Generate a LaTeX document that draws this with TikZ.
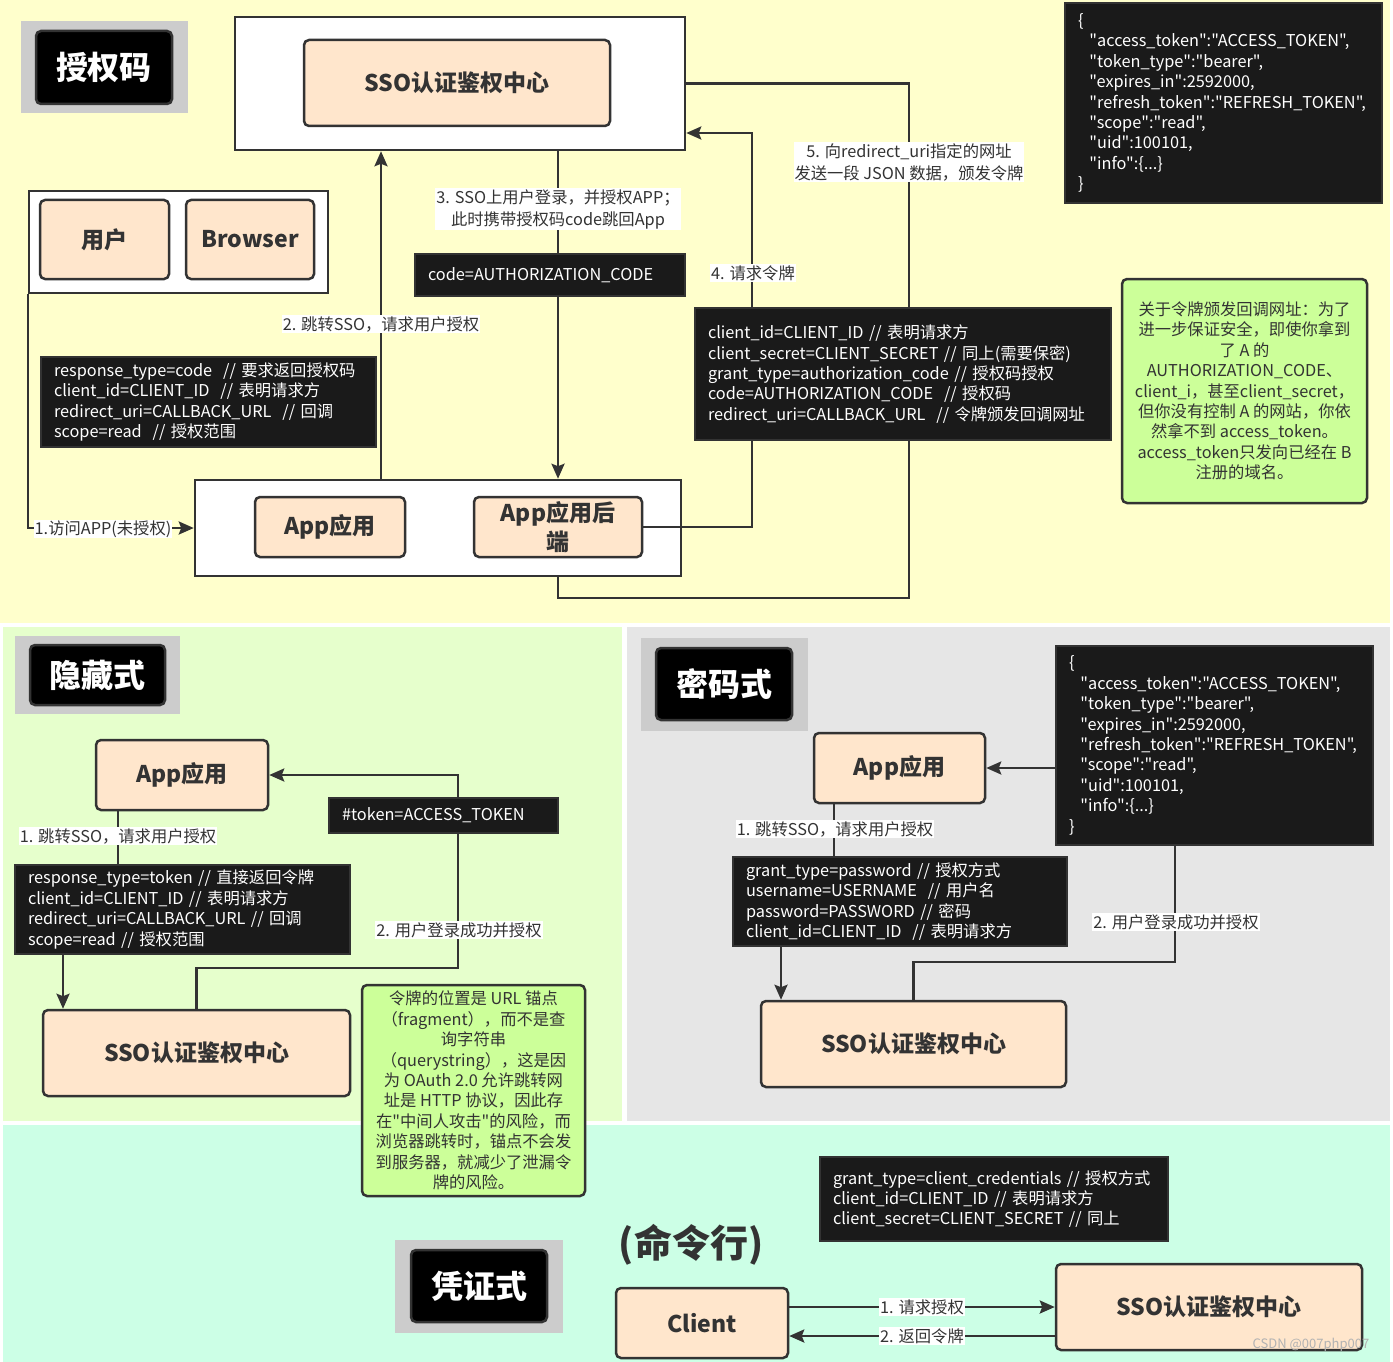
\documentclass[tikz,border=0pt]{standalone}
\usepackage{fontspec}
\setmainfont{Noto Sans CJK SC}[Ligatures=TeXOff]
\usetikzlibrary{arrows.meta,positioning}
\definecolor{linec}{HTML}{333333}
\definecolor{peachc}{HTML}{FFE6CC}
\definecolor{blkc}{HTML}{1A1A1A}
\definecolor{notec}{HTML}{CCFF99}
\definecolor{yelc}{HTML}{FFFFCC}
\definecolor{grnc}{HTML}{E6FFCC}
\definecolor{gryc}{HTML}{E6E6E6}
\definecolor{mintc}{HTML}{CCFFE6}
\definecolor{badgec}{HTML}{CCCCCC}
\newcommand{\bodyf}{\fontsize{16.3}{20.4}\selectfont}
\newcommand{\headf}{\bfseries\fontsize{23}{29}\selectfont}
\newcommand{\badgef}{\bfseries\fontsize{32}{36}\selectfont}
\tikzset{
  ln/.style={line width=2.5pt,draw=linec},
  ar/.style={ln,-{Stealth[length=15pt,width=13pt,inset=2.5pt]}},
  wbox/.style={draw=linec,line width=2.5pt,fill=white},
  peach/.style={draw=linec,line width=2.5pt,rounded corners=5pt,fill=peachc,text=linec,font=\headf,align=center,inner sep=1pt},
  blk/.style={fill=blkc,draw=linec,line width=1.2pt,text=white,font=\bodyf,align=left,inner xsep=13pt},
  note/.style={fill=notec,draw=linec,line width=2.5pt,rounded corners=5pt,text=linec,font=\bodyf,align=center},
  lab/.style={fill=white,inner sep=1pt,text=linec,font=\fontsize{16.3}{22}\selectfont,align=center},
  badgebg/.style={fill=badgec,draw=none},
  badge/.style={fill=black,draw=linec,line width=2.5pt,rounded corners=5pt,text=white,font=\badgef}
}
\begin{document}
\begin{tikzpicture}[x=1pt,y=-1pt]
\useasboundingbox (0,0) rectangle (1393,1362);
% section backgrounds
\fill[white] (0,0) rectangle (1393,1362);
\fill[yelc] (0,0) rectangle (1390,623);
\fill[grnc] (3,627) rectangle (622,1121);
\fill[gryc] (627,627) rectangle (1390,1121);
\fill[mintc] (3,1125) rectangle (1390,1362);

% ---- 授权码 ----
\node[badgebg,minimum width=167pt,minimum height=92pt] (bg1) at (104.5,67) {};
\node[badge,minimum width=136pt,minimum height=73pt] (t1) at (104,67.5) {授权码};
\node[wbox,minimum width=450pt,minimum height=133pt] (topframe) at (460,83.5) {};
\node[peach,minimum width=306pt,minimum height=86pt] (sso1) at (457,83) {SSO认证鉴权中心};
\node[wbox,minimum width=299pt,minimum height=102pt] (userframe) at (178.5,242) {};
\node[peach,minimum width=129pt,minimum height=79pt] (user) at (104.5,239.5) {用户};
\node[peach,minimum width=128pt,minimum height=79pt] (browser) at (250,239.5) {Browser};
\node[wbox,minimum width=486pt,minimum height=96pt] (botframe) at (438,528) {};
\node[peach,minimum width=150pt,minimum height=60pt] (app1) at (330,527) {App应用};
\node[peach,minimum width=168pt,minimum height=60pt] (backend) at (558,527) {App应用后\\端};

\coordinate (c2) at (381,0);
\coordinate (k4) at (752,133);
\coordinate (k5) at (909,598);
\draw[ar] (userframe.south west) |- (botframe.west);
\draw[ar] (botframe.north -| c2) -- (topframe.south -| c2);
\draw[ar] (topframe.south -| backend) -- (botframe.north -| backend);
\draw[ar] (backend.east) -| (k4) -- (topframe.east |- k4);
\draw[ln] (topframe.east) -| (k5) -| (botframe.south -| backend);

\node[blk,text width=244pt,minimum height=42pt] (code) at (550,275) {code=AUTHORIZATION\_CODE};
\node[blk,text width=309pt,minimum height=90pt] (req1) at (208.5,402) {response\_type=code\ \ // 要求返回授权码\\client\_id=CLIENT\_ID\ \ // 表明请求方\\redirect\_uri=CALLBACK\_URL\ \ // 回调\\scope=read\ \ // 授权范围};
\node[blk,text width=390pt,minimum height=132pt] (tokreq) at (903,374) {client\_id=CLIENT\_ID // 表明请求方\\client\_secret=CLIENT\_SECRET // 同上(需要保密)\\grant\_type=authorization\_code // 授权码授权\\code=AUTHORIZATION\_CODE\ \ // 授权码\\redirect\_uri=CALLBACK\_URL\ \ // 令牌颁发回调网址};
\node[blk,text width=291pt,minimum height=200pt] (json1) at (1223.5,103) {\{\\\hspace*{0.7em}"access\_token":"ACCESS\_TOKEN",\\\hspace*{0.7em}"token\_type":"bearer",\\\hspace*{0.7em}"expires\_in":2592000,\\\hspace*{0.7em}"refresh\_token":"REFRESH\_TOKEN",\\\hspace*{0.7em}"scope":"read",\\\hspace*{0.7em}"uid":100101,\\\hspace*{0.7em}"info":\{...\}\\\}};
\node[note,minimum width=245pt,minimum height=224pt] (note1) at (1244.5,391) {关于令牌颁发回调网址：为了\\进一步保证安全，即使你拿到\\了 A 的\\AUTHORIZATION\_CODE、\\client\_i，甚至client\_secret，\\但你没有控制 A 的网站，你依\\然拿不到 access\_token。\\access\_token只发向已经在 B\\注册的域名。};
\node[lab] (lab1) at (103,529) {1.访问APP(未授权)};
\node[lab] (lab2) at (381,324) {2. 跳转SSO，请求用户授权};
\node[lab] (lab3) at (558,209) {3. SSO上用户登录，并授权APP；\\此时携带授权码code跳回App};
\node[lab] (lab4) at (753,273) {4. 请求令牌};
\node[lab] (lab5) at (909,162) {5. 向redirect\_uri指定的网址\\发送一段 JSON 数据，颁发令牌};

% ---- 隐藏式 ----
\node[badgebg,minimum width=165pt,minimum height=78pt] (bg2) at (97.5,675) {};
\node[badge,minimum width=135pt,minimum height=60pt] (t2) at (97.5,675) {隐藏式};
\node[peach,minimum width=172pt,minimum height=70pt] (app2) at (182,775) {App应用};
\node[blk,text width=309pt,minimum height=89pt] (req2) at (182.5,909.5) {response\_type=token // 直接返回令牌\\client\_id=CLIENT\_ID // 表明请求方\\redirect\_uri=CALLBACK\_URL // 回调\\scope=read // 授权范围};
\node[peach,minimum width=307pt,minimum height=86pt] (sso2) at (196.5,1053) {SSO认证鉴权中心};
\coordinate (c118) at (118,0);
\coordinate (c63) at (63,0);
\coordinate (m2) at (458,968);
\draw[ln] (app2.south -| c118) -- (req2.north -| c118);
\draw[ar] (req2.south -| c63) -- (sso2.north -| c63);
\draw[ar] (sso2.north) |- (m2) |- (app2.east);
\node[blk,text width=203pt,minimum height=35pt] (tok2) at (443.5,815.5) {\#token=ACCESS\_TOKEN};
\node[lab] (lab6) at (118,836) {1. 跳转SSO，请求用户授权};
\node[lab] (lab7) at (459,930) {2. 用户登录成功并授权};
\node[note,minimum width=223pt,minimum height=211pt] (note2) at (473.5,1090.5) {令牌的位置是 URL 锚点\\（fragment），而不是查\\询字符串\\（querystring），这是因\\为 OAuth 2.0 允许跳转网\\址是 HTTP 协议，因此存\\在"中间人攻击"的风险，而\\浏览器跳转时，锚点不会发\\到服务器，就减少了泄漏令\\牌的风险。};

% ---- 密码式 ----
\node[badgebg,minimum width=167pt,minimum height=93pt] (bg3) at (724.5,684.5) {};
\node[badge,minimum width=136pt,minimum height=72pt] (t3) at (724,684) {密码式};
\node[peach,minimum width=171pt,minimum height=70pt] (app3) at (899.5,768) {App应用};
\node[blk,text width=308pt,minimum height=89pt] (req3) at (900,901.5) {grant\_type=password // 授权方式\\username=USERNAME\ \ // 用户名\\password=PASSWORD // 密码\\client\_id=CLIENT\_ID\ \ // 表明请求方};
\node[peach,minimum width=305pt,minimum height=86pt] (sso3) at (913.5,1044) {SSO认证鉴权中心};
\node[blk,text width=291pt,minimum height=199pt] (json3) at (1214.5,745.5) {\{\\\hspace*{0.7em}"access\_token":"ACCESS\_TOKEN",\\\hspace*{0.7em}"token\_type":"bearer",\\\hspace*{0.7em}"expires\_in":2592000,\\\hspace*{0.7em}"refresh\_token":"REFRESH\_TOKEN",\\\hspace*{0.7em}"scope":"read",\\\hspace*{0.7em}"uid":100101,\\\hspace*{0.7em}"info":\{...\}\\\}};
\coordinate (c834) at (834,0);
\coordinate (c781) at (781,0);
\coordinate (m3) at (1175,962);
\draw[ln] (app3.south -| c834) -- (req3.north -| c834);
\draw[ar] (req3.south -| c781) -- (sso3.north -| c781);
\draw[ln] (sso3.north) |- (m3) -- (json3.south -| m3);
\draw[ar] (json3.west |- app3.east) -- (app3.east);
\node[lab] (lab8) at (835,829) {1. 跳转SSO，请求用户授权};
\node[lab] (lab9) at (1176,922) {2. 用户登录成功并授权};

% ---- 凭证式 ----
\node[text=linec,font=\bfseries\fontsize{38}{40}\selectfont] (cmd) at (691,1245) {(命令行)};
\node[badgebg,minimum width=168pt,minimum height=93pt] (bg4) at (479,1286.5) {};
\node[badge,minimum width=136pt,minimum height=72pt] (t4) at (479,1286) {凭证式};
\node[blk,text width=322pt,minimum height=84pt] (cred) at (994,1199) {grant\_type=client\_credentials // 授权方式\\client\_id=CLIENT\_ID // 表明请求方\\client\_secret=CLIENT\_SECRET // 同上};
\node[peach,minimum width=172pt,minimum height=70pt] (client) at (702,1323) {Client};
\node[peach,minimum width=306pt,minimum height=86pt] (sso4) at (1209,1307) {SSO认证鉴权中心};
\coordinate (r2) at (0,1336);
\draw[ar] (client.east |- sso4.west) -- node[lab] (lab10) {1. 请求授权} (sso4.west);
\draw[ar] (sso4.west |- r2) -- node[lab] (lab11) {2. 返回令牌} (client.east |- r2);
\node[text=black!30,font=\fontsize{13}{14}\selectfont] (mark) at (1311,1345) {CSDN @007php007};
\end{tikzpicture}
\end{document}
